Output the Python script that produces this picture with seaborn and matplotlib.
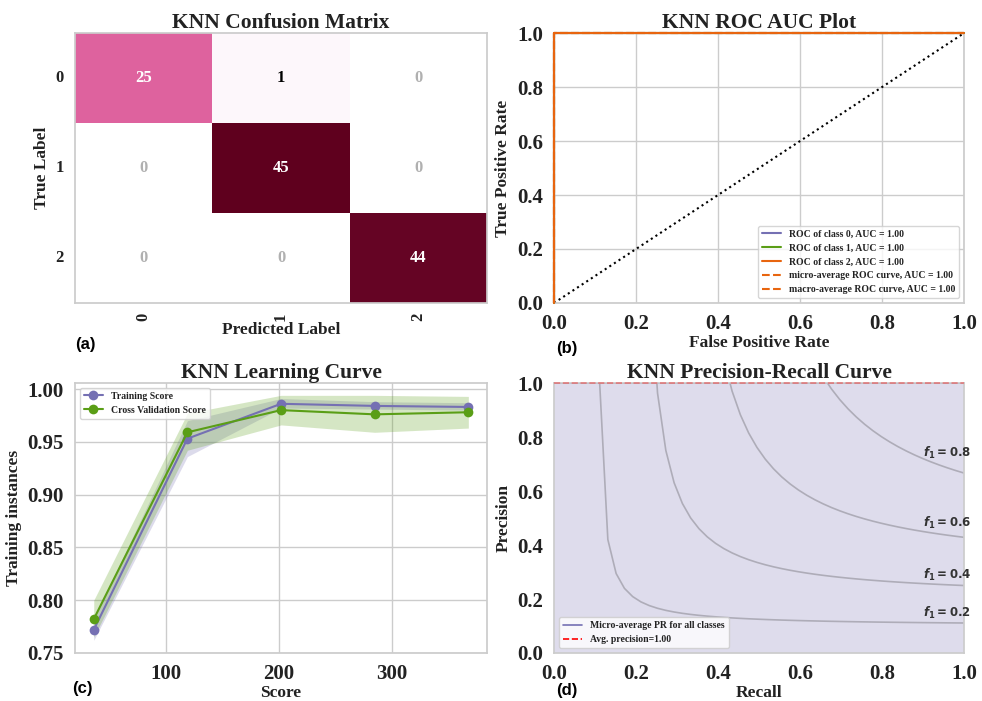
import numpy as np
import pandas as pd
import matplotlib.pyplot as plt
from matplotlib.colors import LinearSegmentedColormap
import seaborn as sns

# confusion matrix (a)
classes = ["0", "1", "2"]
conf_matrix = [[25, 1, 0],
               [0, 45, 0],
               [0, 0, 44]]

# ROC curves (b) - every class is perfectly separated
roc_fpr = [0.0, 0.0, 1.0]
roc_tpr = [0.0, 1.0, 1.0]
roc_labels = ["ROC of class 0, AUC = 1.00",
              "ROC of class 1, AUC = 1.00",
              "ROC of class 2, AUC = 1.00"]
avg_labels = ["micro-average ROC curve, AUC = 1.00",
              "macro-average ROC curve, AUC = 1.00"]

# learning curve (c)
train_sizes = [36, 119, 202, 285, 368]
train_mean = [0.772, 0.953, 0.986, 0.984, 0.983]
train_low = [0.762, 0.936, 0.982, 0.981, 0.980]
train_high = [0.782, 0.970, 0.991, 0.988, 0.987]
cv_mean = [0.782, 0.959, 0.980, 0.976, 0.978]
cv_low = [0.765, 0.942, 0.966, 0.959, 0.963]
cv_high = [0.800, 0.977, 0.994, 0.994, 0.993]

# precision-recall (d)
pr_recall = [0.0, 1.0]
pr_precision = [1.0, 1.0]
avg_precision = 1.00
f1_levels = [0.2, 0.4, 0.6, 0.8]

purple = "#7570b3"
green = "#5a9e16"
orange = "#e8650f"

sns.set_theme(style="whitegrid")
plt.rcParams["font.family"] = ["Liberation Serif", "DejaVu Serif"]
plt.rcParams["font.weight"] = "bold"
plt.rcParams["axes.labelweight"] = "bold"
plt.rcParams["axes.titleweight"] = "bold"
plt.rcParams["text.color"] = "#222222"
plt.rcParams["axes.labelcolor"] = "#222222"
plt.rcParams["xtick.color"] = "#222222"
plt.rcParams["ytick.color"] = "#222222"
plt.rcParams["xtick.major.pad"] = 2
plt.rcParams["ytick.major.pad"] = 2
plt.rcParams["mathtext.fontset"] = "dejavusans"

fig = plt.figure(figsize=(9.82, 7.01), dpi=100)
ax_a = fig.add_axes([0.0764, 0.5678, 0.4196, 0.385])
ax_b = fig.add_axes([0.5642, 0.5678, 0.4175, 0.385])
ax_c = fig.add_axes([0.0764, 0.0685, 0.4196, 0.385])
ax_d = fig.add_axes([0.5642, 0.0685, 0.4175, 0.385])

title_kw = dict(fontsize=15.5, pad=4)
label_kw = dict(fontsize=12.5)

# ---- (a) confusion matrix
# white -> pale pink -> pink -> maroon, close to the original's palette
cm_cmap = LinearSegmentedColormap.from_list(
    "pinks", [(0.0, "#ffffff"), (0.04, "#faeff7"), (0.55, "#e064a0"), (1.0, "#5f001e")])
cm_df = pd.DataFrame(conf_matrix, index=classes, columns=classes)
sns.heatmap(cm_df, cmap=cm_cmap, vmin=0, vmax=45,
            annot=True, fmt="d", cbar=False, ax=ax_a,
            annot_kws=dict(fontsize=12, fontweight="bold"))
for t in ax_a.texts:
    v = int(t.get_text())
    if v == 0:
        t.set_color("#b0b0b0")
    elif v < 10:
        t.set_color("black")
    else:
        t.set_color("white")
for s in ax_a.spines.values():
    s.set_visible(True)
    s.set_color("#cccccc")
ax_a.set_title("KNN Confusion Matrix", **title_kw)
ax_a.set_xlabel("Predicted Label", labelpad=1, **label_kw)
ax_a.set_ylabel("True Label", **label_kw)
ax_a.tick_params(axis="x", labelsize=12, rotation=90, pad=1)
ax_a.tick_params(axis="y", labelsize=12, rotation=0)

# ---- (b) ROC
diag = pd.DataFrame({"x": [0.0, 1.0], "y": [0.0, 1.0]})
sns.lineplot(data=diag, x="x", y="y", color="black", linestyle=":",
             linewidth=1.5, ax=ax_b)
for lab, col in zip(roc_labels, [purple, green, orange]):
    sns.lineplot(x=roc_fpr, y=roc_tpr, estimator=None, sort=False,
                 color=col, linewidth=1.5, label=lab, clip_on=False,
                 zorder=3, ax=ax_b)
for lab in avg_labels:
    sns.lineplot(x=roc_fpr, y=roc_tpr, estimator=None, sort=False,
                 color=orange, linestyle="--", linewidth=1.5, label=lab,
                 clip_on=False, zorder=3, ax=ax_b)
ax_b.set_xlim(0, 1)
ax_b.set_ylim(0, 1)
ax_b.set_xticks(np.arange(0, 1.01, 0.2))
ax_b.set_yticks(np.arange(0, 1.01, 0.2))
ax_b.tick_params(labelsize=15)
ax_b.set_title("KNN ROC AUC Plot", **title_kw)
ax_b.set_xlabel("False Positive Rate", labelpad=1, **label_kw)
ax_b.set_ylabel("True Positive Rate", **label_kw)
ax_b.legend(loc="lower right", fontsize=7, frameon=True)

# ---- (c) learning curve
ax_c.fill_between(train_sizes, train_low, train_high, color=purple, alpha=0.25, linewidth=0)
ax_c.fill_between(train_sizes, cv_low, cv_high, color=green, alpha=0.25, linewidth=0)
sns.lineplot(x=train_sizes, y=train_mean, marker="o", markersize=7,
             markeredgewidth=0, color=purple, linewidth=1.5,
             label="Training Score", ax=ax_c)
sns.lineplot(x=train_sizes, y=cv_mean, marker="o", markersize=7,
             markeredgewidth=0, color=green, linewidth=1.5,
             label="Cross Validation Score", ax=ax_c)
ax_c.set_yticks([0.75, 0.80, 0.85, 0.90, 0.95, 1.00])
ax_c.set_yticklabels(["0.75", "0.80", "0.85", "0.90", "0.95", "1.00"])
ax_c.set_xticks([100, 200, 300])
ax_c.tick_params(labelsize=15)
ax_c.set_title("KNN Learning Curve", **title_kw)
ax_c.set_xlabel("Score", labelpad=1, **label_kw)
ax_c.set_ylabel("Training instances", **label_kw)
ax_c.legend(loc="upper left", fontsize=7, frameon=True)

# ---- (d) precision-recall
ax_d.grid(False)
ax_d.fill_between(pr_recall, pr_precision, step="post", color=purple, alpha=0.24, linewidth=0)
sns.lineplot(x=pr_recall, y=pr_precision, estimator=None, color=purple,
             linewidth=1.2, label="Micro-average PR for all classes", ax=ax_d)
ax_d.axhline(avg_precision, color="red", linestyle="--", linewidth=1.2,
             alpha=0.4, clip_on=False, zorder=3)
ax_d.plot([], [], color="red", linestyle="--", linewidth=1.2,
          label="Avg. precision={:0.2f}".format(avg_precision))
# iso-F1 guide lines for each F1 level
for f in f1_levels:
    r = np.linspace(0.01, 1)
    p = f * r / (2 * r - f)
    ax_d.plot(r[p >= 0], p[p >= 0], color="#333333", alpha=0.28, linewidth=1.2)
    ax_d.text(0.9, p[45] + 0.02, r"$\mathbfit{f}_\mathbf{1}\mathbf{=%0.1f}$" % f,
              fontsize=8.5, color="#333333")
ax_d.set_xlim(0, 1)
ax_d.set_ylim(0, 1)
ax_d.set_xticks(np.arange(0, 1.01, 0.2))
ax_d.set_yticks(np.arange(0, 1.01, 0.2))
ax_d.tick_params(labelsize=15)
ax_d.set_title("KNN Precision-Recall Curve", **title_kw)
ax_d.set_xlabel("Recall", labelpad=1, **label_kw)
ax_d.set_ylabel("Precision", **label_kw)
ax_d.legend(loc="lower left", fontsize=7, frameon=True)

# panel letters
letter_kw = dict(fontsize=12, fontweight="bold", family="Liberation Sans", color="black")
fig.text(75 / 982, 1 - 345 / 701, "(a)", va="center", **letter_kw)
fig.text(556 / 982, 1 - 348 / 701, "(b)", va="center", **letter_kw)
fig.text(72 / 982, 1 - 688 / 701, "(c)", va="center", **letter_kw)
fig.text(556 / 982, 1 - 691 / 701, "(d)", va="center", **letter_kw)

fig.savefig("out.png", dpi=100)
